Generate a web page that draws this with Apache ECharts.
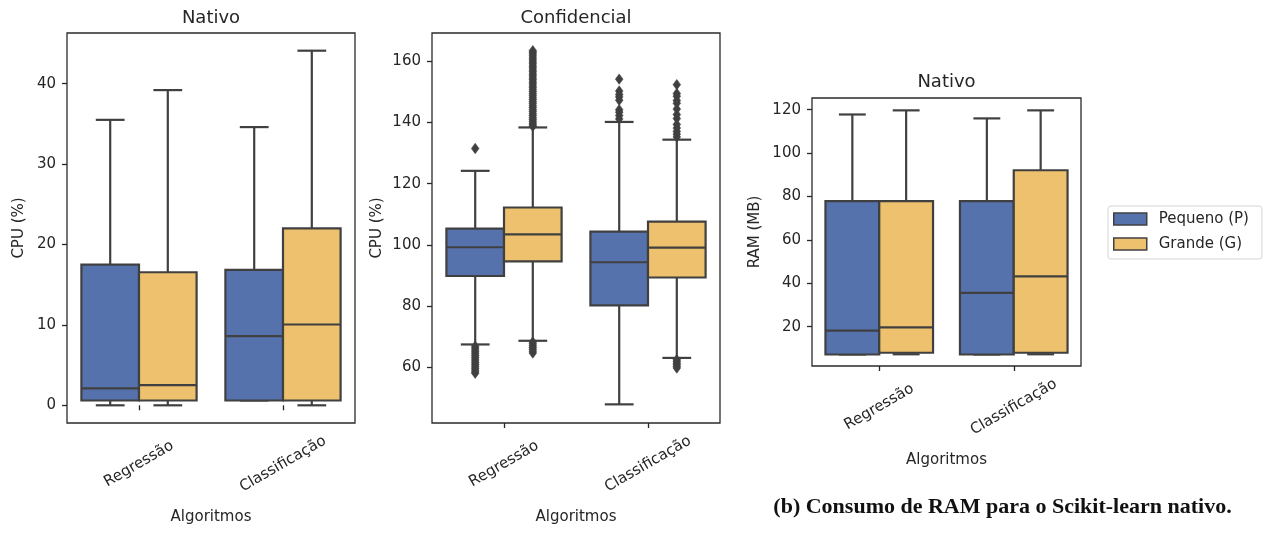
<!DOCTYPE html>
<html>
<head>
<meta charset="utf-8">
<script src="https://cdn.jsdelivr.net/npm/echarts@6/dist/echarts.min.js"></script>
<style>
html,body{margin:0;padding:0;background:#fff;}
#chart{width:1265px;height:536px;}
</style>
</head>
<body>
<div id="chart"></div>
<script>
// ---------- data ----------
const categories = ['Regressão', 'Classificação'];
const hueNames = ['Pequeno (P)', 'Grande (G)'];
const panelTitles = ['Nativo', 'Confidencial', 'Nativo'];
const yNames = ['CPU (%)', 'CPU (%)', 'RAM (MB)'];
const xName = 'Algoritmos';
const caption = '(b) Consumo de RAM para o Scikit-learn nativo.';

// box stats per category: [low whisker, q1, median, q3, high whisker]
const cpuNativoP = [[0, 0.6, 2.1, 17.5, 35.5], [0.6, 0.6, 8.6, 16.85, 34.6]];
const cpuNativoG = [[0, 0.6, 2.5, 16.55, 39.2], [0, 0.6, 10.05, 22.0, 44.1]];
const cpuConfP = [[67.4, 89.8, 99.2, 105.3, 124.2], [47.8, 80.2, 94.3, 104.3, 140.2]];
const cpuConfG = [[68.6, 94.6, 103.4, 112.2, 138.4], [63.0, 89.3, 99.1, 107.6, 134.4]];
const ramNativoP = [[7.2, 7.2, 18.2, 77.9, 117.8], [7.2, 7.2, 35.6, 77.9, 116.0]];
const ramNativoG = [[7.3, 8.0, 19.7, 77.9, 119.7], [7.3, 8.0, 43.2, 92.1, 119.7]];

// outliers (Confidencial panel)
const confPRegOut = [131.5, 66.8, 66.2, 65.6, 65.0, 64.4, 63.8, 63.2, 62.6, 62.0, 61.4, 60.8, 60.2, 59.6, 59.0, 58.4, 58.0];
const confPClsOut = [154.2, 150.3, 149.2, 148.4, 147.3, 144.2, 143.4, 142.3, 141.2];
const confGRegOut = [163.5, 163.0, 162.4, 161.8, 161.1, 160.5, 159.8, 159.2, 158.5, 157.9, 157.2, 156.6, 155.9, 155.3, 154.6,
  154.0, 153.3, 152.7, 152.0, 151.4, 150.7, 150.1, 149.4, 148.8, 148.1, 147.5, 146.8, 146.2, 145.5, 144.9, 144.2,
  143.6, 142.9, 142.3, 141.6, 141.0, 140.4, 139.8, 139.2, 138.8, 68.2, 67.6, 67.0, 66.4, 65.8, 65.2, 64.6];
const confGClsOut = [152.4, 149.5, 148.6, 147.2, 146.3, 144.4, 142.6, 141.3, 139.4, 138.2, 137.1, 136.2, 135.3,
  62.4, 61.9, 61.3, 60.8, 60.2, 59.7];

// axis ranges and tick labels
const yRanges = [[-2.2, 46.3], [41.7, 169.3], [1.9, 125.4]];
const yTicks = [[0, 10, 20, 30, 40], [60, 80, 100, 120, 140, 160], [20, 40, 60, 80, 100, 120]];

// ---------- styles ----------
const COLORS = ['#5672ac', '#edc16d'];
const LINE = '#404040';
const TXT = '#262626';
const FONT = 'DejaVu Sans';

const grids = [
  {left: 67, top: 33, width: 288, height: 390},
  {left: 432, top: 33, width: 288, height: 390},
  {left: 812, top: 98, width: 269, height: 268}
];
const yNameGaps = [40, 47, 49];

const boxData = [[cpuNativoP, cpuNativoG], [cpuConfP, cpuConfG], [ramNativoP, ramNativoG]];
const outData = [
  [],
  [[confPRegOut, confPClsOut], [confGRegOut, confGClsOut]],
  []
];

function boxRender(hue) {
  return function (params, api) {
    const c = api.value(0);
    const band = api.size([1, 0])[0];
    const bw = band * 0.4;
    const cx = api.coord([c, api.value(3)])[0] + (hue - 0.5) * bw;
    const y = v => api.coord([c, v])[1];
    const low = y(api.value(1)), q1 = y(api.value(2)), med = y(api.value(3)),
      q3 = y(api.value(4)), high = y(api.value(5));
    const ls = {stroke: LINE, lineWidth: 2.2};
    const cw = bw / 4;
    return {
      type: 'group',
      children: [
        {type: 'line', shape: {x1: cx, y1: q3, x2: cx, y2: high}, style: ls},
        {type: 'line', shape: {x1: cx, y1: q1, x2: cx, y2: low}, style: ls},
        {type: 'line', shape: {x1: cx - cw, y1: high, x2: cx + cw, y2: high}, style: ls},
        {type: 'line', shape: {x1: cx - cw, y1: low, x2: cx + cw, y2: low}, style: ls},
        {type: 'rect', shape: {x: cx - bw / 2, y: q3, width: bw, height: q1 - q3},
          style: {fill: COLORS[hue], stroke: LINE, lineWidth: 2.2}},
        {type: 'line', shape: {x1: cx - bw / 2, y1: med, x2: cx + bw / 2, y2: med}, style: ls}
      ]
    };
  };
}
function outRender(hue) {
  return function (params, api) {
    const c = api.value(0);
    const band = api.size([1, 0])[0];
    const bw = band * 0.4;
    const p = api.coord([c, api.value(1)]);
    const cx = p[0] + (hue - 0.5) * bw, cy = p[1];
    const hw = 3.8, hh = 5.2;
    return {
      type: 'polygon',
      shape: {points: [[cx, cy - hh], [cx + hw, cy], [cx, cy + hh], [cx - hw, cy]]},
      style: {fill: LINE, stroke: LINE, lineWidth: 0.6}
    };
  };
}

const xAxes = [], yAxes = [], series = [];
grids.forEach((g, i) => {
  xAxes.push({
    type: 'category', gridIndex: i, data: categories,
    name: xName, nameLocation: 'middle', nameGap: 87,
    nameTextStyle: {fontFamily: FONT, fontSize: 15, color: TXT},
    axisLine: {show: false},
    axisTick: {show: true, alignWithLabel: true, length: 5, lineStyle: {color: TXT, width: 1.3}},
    axisLabel: {rotate: 30, align: 'center', verticalAlign: 'middle', margin: 41,
      fontFamily: FONT, fontSize: 15, color: TXT},
    splitLine: {show: false}
  });
  yAxes.push({
    type: 'value', gridIndex: i, min: yRanges[i][0], max: yRanges[i][1],
    name: yNames[i], nameLocation: 'middle', nameGap: yNameGaps[i], nameRotate: 90,
    nameTextStyle: {fontFamily: FONT, fontSize: 15, color: TXT},
    axisLine: {show: false},
    axisTick: {show: true, length: 5, customValues: yTicks[i], lineStyle: {color: TXT, width: 1.3}},
    axisLabel: {customValues: yTicks[i], margin: 11, fontFamily: FONT, fontSize: 15, color: TXT},
    splitLine: {show: false}
  });
  [0, 1].forEach(h => {
    series.push({
      type: 'custom', name: hueNames[h], xAxisIndex: i, yAxisIndex: i,
      itemStyle: {color: COLORS[h], borderColor: LINE},
      encode: {x: 0, y: [1, 2, 3, 4, 5]},
      renderItem: boxRender(h),
      data: boxData[i][h].map((s, c) => [c].concat(s)),
      z: 2
    });
  });
  if (outData[i].length) {
    [0, 1].forEach(h => {
      const d = [];
      outData[i][h].forEach((arr, c) => arr.forEach(v => d.push([c, v])));
      series.push({
        type: 'custom', name: 'out' + i + h, xAxisIndex: i, yAxisIndex: i,
        encode: {x: 0, y: 1},
        renderItem: outRender(h),
        data: d, z: 3
      });
    });
  }
});

const chart = echarts.init(document.getElementById('chart'));
chart.setOption({
  animation: false,
  backgroundColor: '#fff',
  grid: grids.map(g => Object.assign({show: true, borderColor: '#2a2a2a', borderWidth: 1.3,
    backgroundColor: 'transparent', containLabel: false}, g)),
  xAxis: xAxes,
  yAxis: yAxes,
  legend: {
    orient: 'vertical', left: 1108, top: 206,
    padding: [4, 13, 6, 5], itemGap: 7, itemWidth: 33, itemHeight: 12,
    backgroundColor: '#fff', borderColor: '#d5d5d5', borderWidth: 1, borderRadius: 3,
    textStyle: {fontFamily: FONT, fontSize: 15, color: TXT, lineHeight: 18, padding: [0, 0, 0, 7]},
    data: hueNames.map((n, h) => ({name: n, icon: 'rect',
      itemStyle: {color: COLORS[h], borderColor: LINE, borderWidth: 1.5}}))
  },
  graphic: [
    {type: 'text', x: 211, y: 18, style: {text: panelTitles[0], font: '18px "DejaVu Sans"', fill: TXT, textAlign: 'center', textVerticalAlign: 'middle'}},
    {type: 'text', x: 576, y: 18, style: {text: panelTitles[1], font: '18px "DejaVu Sans"', fill: TXT, textAlign: 'center', textVerticalAlign: 'middle'}},
    {type: 'text', x: 946.5, y: 82, style: {text: panelTitles[2], font: '18px "DejaVu Sans"', fill: TXT, textAlign: 'center', textVerticalAlign: 'middle'}},
    {type: 'text', x: 1002.5, y: 507, style: {text: caption, font: 'bold 22px "Liberation Serif"', fill: '#111', textAlign: 'center', textVerticalAlign: 'middle'}}
  ],
  series: series
});
</script>
</body>
</html>
